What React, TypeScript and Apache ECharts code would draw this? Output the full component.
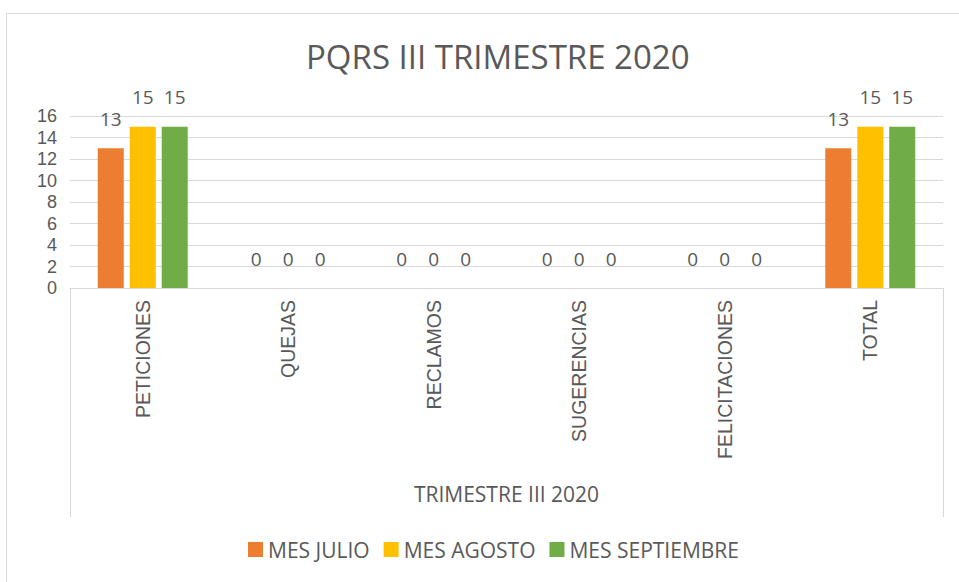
import React, { useEffect, useRef } from "react";
import * as echarts from "echarts";

const categories = ["PETICIONES", "QUEJAS", "RECLAMOS", "SUGERENCIAS", "FELICITACIONES", "TOTAL"];
const julio = [13, 0, 0, 0, 0, 13];
const agosto = [15, 0, 0, 0, 0, 15];
const septiembre = [15, 0, 0, 0, 0, 15];
const seriesNames = ["MES JULIO", "MES AGOSTO", "MES SEPTIEMBRE"];
const colors = ["#ED7D31", "#FFC000", "#70AD47"];

const FONT = "'Open Sans', 'Noto Sans', sans-serif";
const ARIAL = "'Liberation Sans', Arial, sans-serif";
const GRAY = "#595959";
const LINE = "#D9D9D9";

export default function App() {
  const ref = useRef<HTMLDivElement>(null);
  useEffect(() => {
    if (!ref.current) return;
    const chart = echarts.init(ref.current, undefined, { renderer: "svg" });
    const data = [julio, agosto, septiembre];
    chart.setOption({
      animation: false,
      backgroundColor: "#fff",
      title: {
        text: "PQRS III TRIMESTRE 2020",
        left: 301,
        top: 35,
        textStyle: { fontFamily: FONT, fontSize: 33, fontWeight: "normal", color: GRAY },
      },
      legend: {
        bottom: 17,
        left: 243,
        itemWidth: 15,
        itemHeight: 15,
        itemGap: 14,
        icon: "rect",
        textStyle: { fontFamily: FONT, fontSize: 21, color: GRAY },
        data: seriesNames,
      },
      grid: { left: 70, right: 16, top: 116, bottom: 294, containLabel: false },
      xAxis: {
        type: "category",
        data: categories,
        name: "TRIMESTRE III 2020",
        nameLocation: "middle",
        nameGap: 195,
        nameTextStyle: { fontFamily: FONT, fontSize: 21, color: GRAY },
        axisLine: { show: true, lineStyle: { color: LINE, width: 1 } },
        axisTick: { show: false },
        axisLabel: {
          rotate: 90,
          interval: 0,
          margin: 12,
          fontFamily: ARIAL,
          fontSize: 19.5,
          color: GRAY,
        },
      },
      yAxis: {
        type: "value",
        min: 0,
        max: 16,
        interval: 2,
        axisLine: { show: false },
        axisTick: { show: false },
        axisLabel: { fontFamily: ARIAL, fontSize: 18, lineHeight: 18, color: GRAY, margin: 13 },
        splitLine: { lineStyle: { color: LINE, width: 1 } },
      },
      series: data.map((d, i) => ({
        name: seriesNames[i],
        type: "bar",
        data: d,
        barWidth: 26,
        barGap: "23%",
        itemStyle: { color: colors[i] },
        label: {
          show: true,
          position: "top",
          distance: 20,
          fontFamily: FONT,
          fontSize: 19,
          color: GRAY,
        },
      })),
      graphic: [
        {
          type: "rect",
          shape: { x: 6.5, y: 13.5, width: 1000, height: 700 },
          style: { fill: "none", stroke: LINE, lineWidth: 1 },
          silent: true,
        },
        {
          type: "polyline",
          shape: { points: [[70.5, 288], [70.5, 517]] },
          style: { stroke: LINE, lineWidth: 1, fill: "none" },
          silent: true,
        },
        {
          type: "polyline",
          shape: { points: [[943.5, 288], [943.5, 517]] },
          style: { stroke: LINE, lineWidth: 1, fill: "none" },
          silent: true,
        },
      ],
    });
    return () => chart.dispose();
  }, []);
  return <div ref={ref} style={{ width: 959, height: 582, position: "absolute", left: 0, top: 0 }} />;
}
